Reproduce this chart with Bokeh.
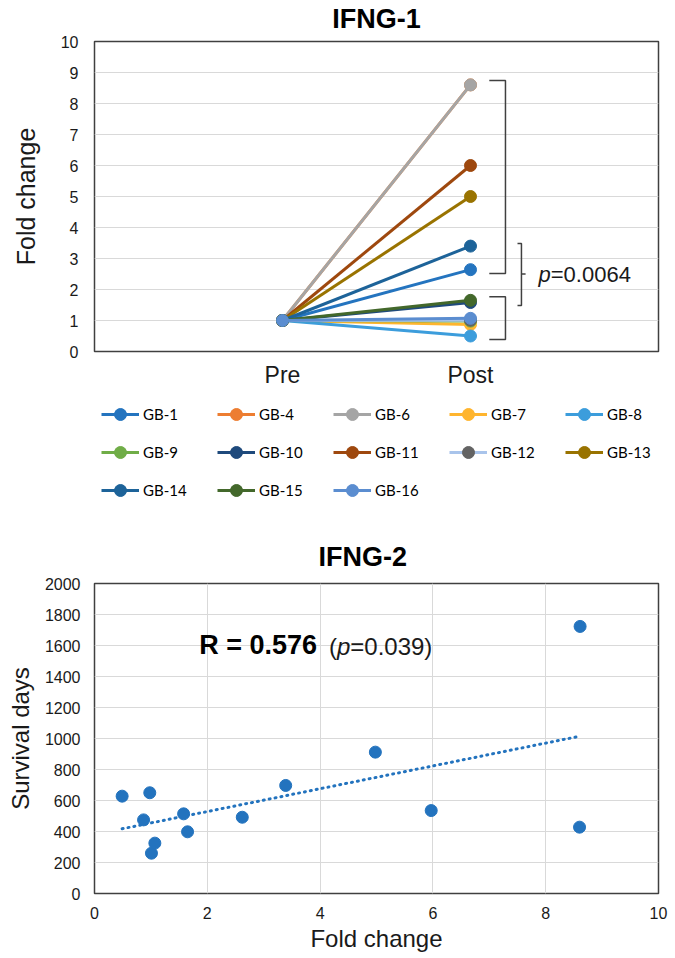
from bokeh.plotting import figure
from bokeh.models import Range1d, FixedTicker, Legend, LegendItem, Label
from bokeh.layouts import column
from bokeh.embed import file_html
from bokeh.resources import INLINE
import numpy as np

# ---------------- data ----------------
samples = ["GB-1", "GB-4", "GB-6", "GB-7", "GB-8", "GB-9", "GB-10",
           "GB-11", "GB-12", "GB-13", "GB-14", "GB-15", "GB-16"]
timepoints = ["Pre", "Post"]
pre_values = [1.0, 1.0, 1.0, 1.0, 1.0, 1.0, 1.0, 1.0, 1.0, 1.0, 1.0, 1.0, 1.0]
post_values = [2.64, 8.6, 8.6, 0.87, 0.5, 0.98, 1.58, 6.0, 1.01, 5.0, 3.4, 1.65, 1.07]
line_colors = ["#2474BF", "#ED7D31", "#A5A5A5", "#FFB52E", "#3C9DDC", "#70AD47", "#1F4A7C",
               "#9E480E", "#A9C4EB", "#997300", "#1D6399", "#43682B", "#5B8DD0"]
marker_colors = ["#2474BF", "#ED7D31", "#A5A5A5", "#FFB52E", "#3C9DDC", "#70AD47", "#1F4A7C",
                 "#9E480E", "#636363", "#997300", "#1D6399", "#43682B", "#5B8DD0"]

fold_change = [0.49, 0.87, 0.98, 1.01, 1.07, 1.58, 1.65, 2.62, 3.39, 4.98, 5.97, 8.61, 8.6]
survival_days = [628, 475, 650, 260, 325, 514, 398, 492, 697, 912, 535, 1723, 428]

FONT = "Liberation Sans"
TXT = "#1a1a1a"
GRID = "#D9D9D9"
FRAME = "#404040"
W = 670
BL, BRD = 94, 12


def style_axes(p):
    for ax in p.axis:
        ax.axis_line_color = None
        ax.major_tick_line_color = None
        ax.minor_tick_line_color = None
        ax.major_tick_out = 0
        ax.major_tick_in = 0
        ax.major_label_text_font = FONT
        ax.major_label_text_color = TXT
        ax.major_label_text_line_height = 1.0
        ax.axis_label_text_font = FONT
        ax.axis_label_text_color = TXT
        ax.axis_label_text_font_style = "normal"
    p.outline_line_color = FRAME
    p.outline_line_width = 1.5
    p.grid.grid_line_color = GRID
    p.grid.grid_line_width = 1


def blank_fig(h, x_range, y_range):
    f = figure(width=W, height=h, x_range=x_range, y_range=y_range,
               output_backend="svg", toolbar_location=None,
               x_axis_location=None, y_axis_location=None,
               min_border_left=BL, min_border_right=BRD, min_border_top=0,
               min_border_bottom=0)
    f.outline_line_color = None
    f.grid.grid_line_color = None
    return f


# ---------------- title of top chart ----------------
pt = blank_fig(32, Range1d(0, 1), Range1d(0, 1))
pt.add_layout(Label(x=0.5, y=0.4375, text="IFNG-1", text_font=FONT, text_font_size="27px",
                    text_font_style="bold", text_align="center", text_baseline="middle",
                    text_line_height=1.0, text_color="#000000"))

# ---------------- top chart ----------------
p1 = figure(width=W, height=359, x_range=Range1d(0, 3), y_range=Range1d(0, 10),
            output_backend="svg", toolbar_location=None,
            min_border_left=BL, min_border_right=BRD, min_border_top=9, min_border_bottom=40)
style_axes(p1)
p1.xgrid.grid_line_color = None
p1.xaxis.ticker = FixedTicker(ticks=[1, 2])
p1.xaxis.major_label_overrides = {1: timepoints[0], 2: timepoints[1]}
p1.xaxis.major_label_text_font_size = "23px"
p1.xaxis.major_label_standoff = 10
p1.yaxis.ticker = FixedTicker(ticks=list(range(0, 11)))
p1.yaxis.major_label_text_font_size = "16px"
p1.yaxis.major_label_standoff = 16
p1.yaxis.axis_label = "Fold change"
p1.yaxis.axis_label_text_font_size = "25px"
p1.yaxis.axis_label_standoff = 18

for pre, post, lc, mc in zip(pre_values, post_values, line_colors, marker_colors):
    xs = [1, 2]
    ys = [pre, post]
    p1.line(xs, ys, line_color=lc, line_width=3)
    p1.scatter(xs, ys, size=12, fill_color=mc, line_color=mc)

# brackets and p value
BRK = dict(line_color=FRAME, line_width=1.5)
p1.line([2.10, 2.186, 2.186, 2.10], [8.74, 8.74, 2.52, 2.52], **BRK)
p1.line([2.10, 2.186, 2.186, 2.10], [1.77, 1.77, 0.39, 0.39], **BRK)
p1.line([2.25, 2.271, 2.271, 2.25], [3.48, 3.48, 1.48, 1.48], **BRK)
p1.line([2.271, 2.293], [2.5, 2.5], **BRK)
p1.add_layout(Label(x=2.362, y=2.5, text="p", text_font=FONT, text_font_size="22px",
                    text_font_style="italic", text_baseline="middle", text_color=TXT))
p1.add_layout(Label(x=2.362, y=2.5, x_offset=12.2, text="=0.0064", text_font=FONT,
                    text_font_size="22px", text_baseline="middle", text_color=TXT))

# ---------------- legend of top chart ----------------
# the same series are drawn again here, outside the visible range, only to feed the legend
LEG_H = 135
pl = blank_fig(LEG_H, Range1d(-3, -2), Range1d(-3, -2))
leg_items = []
for name, pre, post, lc, mc in zip(samples, pre_values, post_values, line_colors, marker_colors):
    xs = [1, 2]
    ys = [pre, post]
    rl = pl.line(xs, ys, line_color=lc, line_width=3)
    rs = pl.scatter(xs, ys, size=12, fill_color=mc, line_color=mc)
    leg_items.append(LegendItem(label=name, renderers=[rl, rs]))

rows = [leg_items[0:5], leg_items[5:10], leg_items[10:13]]
for k, row in enumerate(rows):
    lg = Legend(items=row, orientation="horizontal", location=(7, LEG_H - 38 - 38 * k),
                glyph_width=38, glyph_height=30, label_height=30, label_width=57,
                label_standoff=4, spacing=17, margin=0, padding=0,
                label_text_font="Lato", label_text_font_size="15px", label_text_color="#000000",
                border_line_color=None, background_fill_alpha=0)
    pl.add_layout(lg, "center")

# ---------------- bottom chart ----------------
p2 = figure(width=W, height=432, x_range=Range1d(0, 10), y_range=Range1d(0, 2000),
            title="IFNG-2", output_backend="svg", toolbar_location=None,
            min_border_left=BL, min_border_right=BRD, min_border_top=57, min_border_bottom=65)
style_axes(p2)
p2.title.text_font = FONT
p2.title.text_font_size = "27px"
p2.title.text_font_style = "bold"
p2.title.text_color = "#000000"
p2.title.align = "left"
p2.title.offset = 224
p2.title.standoff = 24
p2.xaxis.ticker = FixedTicker(ticks=[0, 2, 4, 6, 8, 10])
p2.yaxis.ticker = FixedTicker(ticks=list(range(0, 2001, 200)))
p2.xaxis.major_label_text_font_size = "16px"
p2.yaxis.major_label_text_font_size = "16px"
p2.xaxis.major_label_standoff = 13
p2.yaxis.major_label_standoff = 14
p2.xaxis.axis_label = "Fold change"
p2.yaxis.axis_label = "Survival days"
p2.xaxis.axis_label_text_font_size = "24px"
p2.yaxis.axis_label_text_font_size = "24px"
p2.xaxis.axis_label_standoff = 3
p2.yaxis.axis_label_standoff = 8

DOT = "#2373BE"
slope, intercept = np.polyfit(fold_change, survival_days, 1)
tx = [min(fold_change), max(fold_change)]
ty = [slope * v + intercept for v in tx]
p2.line(tx, ty, line_color=DOT, line_width=3, line_dash="1 5", line_cap="round")
p2.scatter(fold_change, survival_days, size=12, fill_color=DOT, line_color=DOT)

p2.add_layout(Label(x=2, y=1505, x_offset=-8, text="R = 0.576", text_font=FONT,
                    text_font_size="27px", text_font_style="bold", text_color="#000000"))
p2.add_layout(Label(x=2, y=1505, x_offset=121.7, text="(", text_font=FONT,
                    text_font_size="24px", text_color=TXT))
p2.add_layout(Label(x=2, y=1505, x_offset=129.7, text="p", text_font=FONT,
                    text_font_size="24px", text_font_style="italic", text_color=TXT))
p2.add_layout(Label(x=2, y=1505, x_offset=143.0, text="=0.039)", text_font=FONT,
                    text_font_size="24px", text_color=TXT))

layout = column(pt, p1, pl, p2)
open("out.html", "w").write(file_html(layout, INLINE))
